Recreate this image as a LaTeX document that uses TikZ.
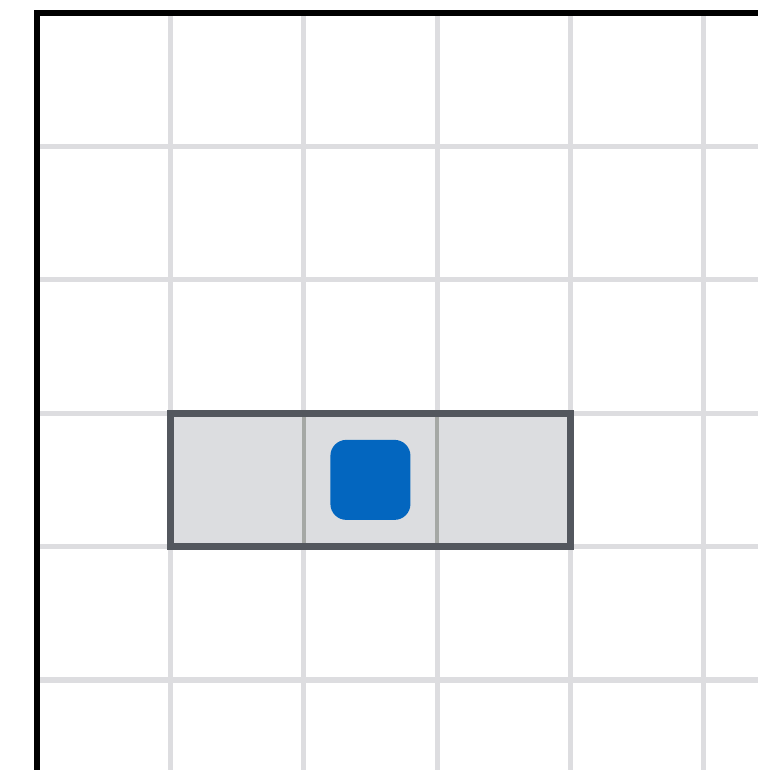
\documentclass[tikz,border=0pt]{standalone}
\usepackage{xcolor}
\definecolor{gridcol}{HTML}{DDDDE0}
\definecolor{boxfill}{HTML}{DCDDE0}
\definecolor{boxdraw}{HTML}{53575E}
\definecolor{cellsep}{HTML}{A5A8A5}
\definecolor{pieceblue}{HTML}{0366BF}
\usetikzlibrary{positioning}

\begin{document}
\begin{tikzpicture}[
        gridline/.style={draw=gridcol,line width=1.1pt},
        cellbox/.style={rectangle,draw=boxdraw,fill=boxfill,line width=1.5pt,
                        minimum width=3cm,minimum height=1cm,inner sep=0pt},
        piece/.style={rectangle,rounded corners=3.4pt,fill=pieceblue,
                      minimum size=0.6cm,inner sep=0pt}]
    \useasboundingbox (-0.277,-5.675) rectangle (5.405,0.0975);

    % background grid
    \foreach \x in {1,...,5}
      \draw[gridline] (\x,0) -- (\x,-5.675);
    \foreach \y in {1,...,5}
      \draw[gridline] (0,-\y) -- (5.405,-\y);

    % selected cells
    \node[cellbox] (row) at (2.5,-3.5) {};
    \draw[cellsep,line width=0.85pt] (2,-3) -- (2,-4);
    \draw[cellsep,line width=0.85pt] (3,-3) -- (3,-4);
    \node[cellbox,fill=none] at (row.center) {};

    \node[piece] (blk) at (row.center) {};

    % axes
    \draw[black,line width=1.2pt] (0,-5.675) -- (0,0) -- (5.405,0);
\end{tikzpicture}
\end{document}
